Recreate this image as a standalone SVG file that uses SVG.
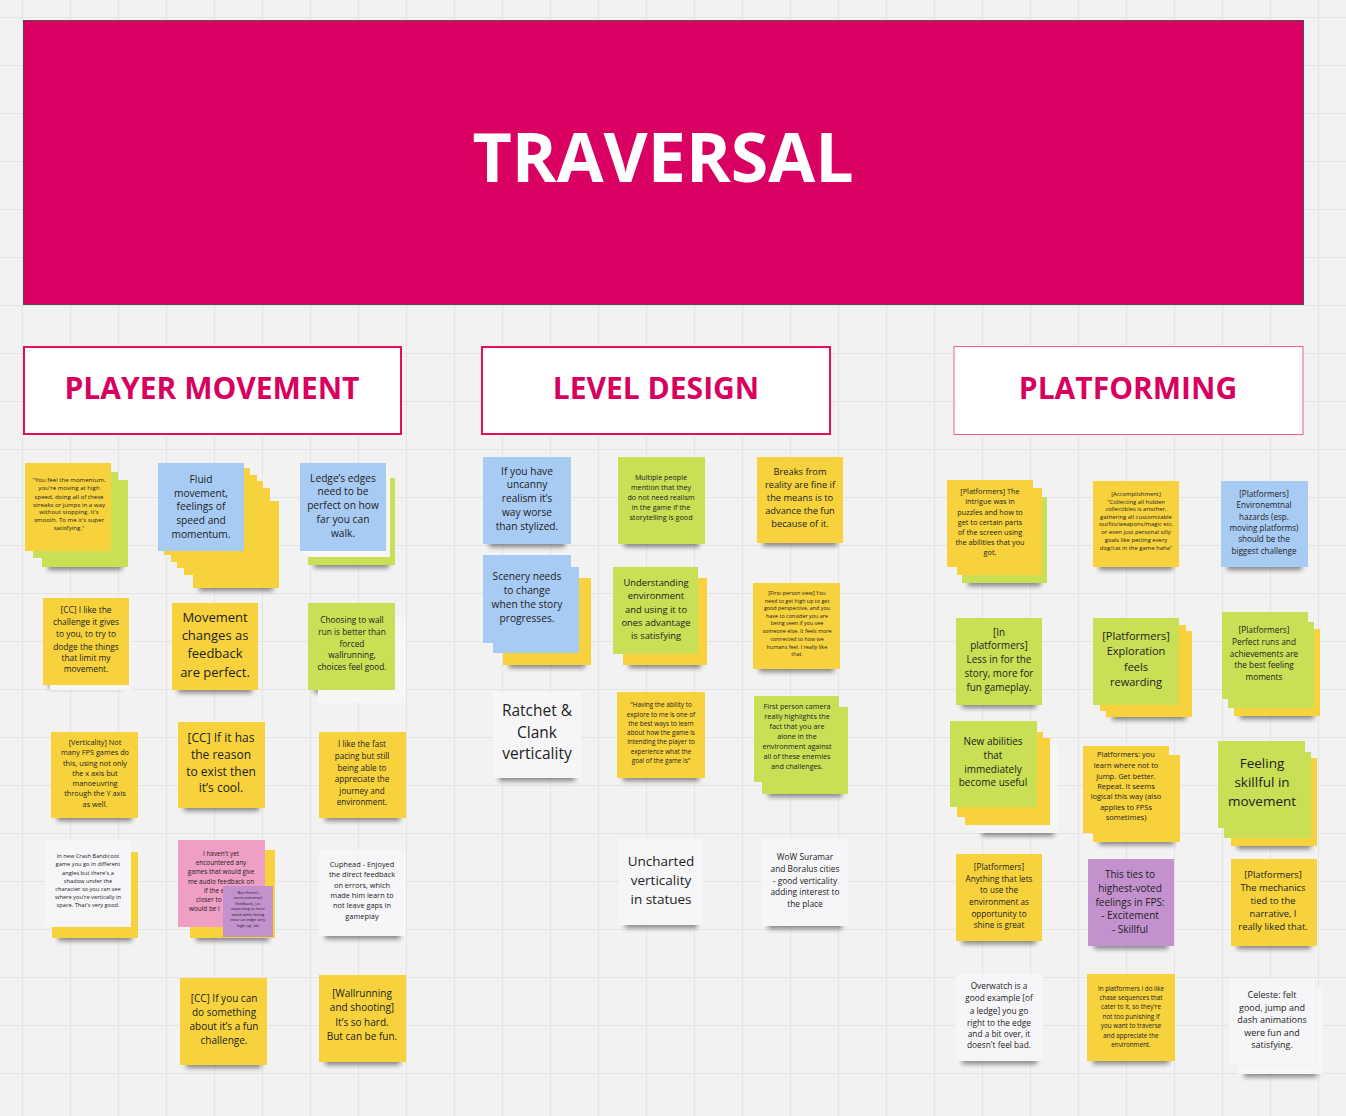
<svg xmlns="http://www.w3.org/2000/svg" width="1346" height="1116" viewBox="0 0 1346 1116">
<defs>
<pattern id="grid" width="48" height="48" patternUnits="userSpaceOnUse" x="22" y="17">
<path d="M0 0.5H48M0.5 0V48" fill="none" stroke="#e4e4e4" stroke-width="1"/>
</pattern>
<filter id="blur" x="-20%" y="-100%" width="140%" height="300%"><feGaussianBlur stdDeviation="2.5"/></filter>
<style>
.ny{fill:#f7d23c}.ng{fill:#c9df55}.nb{fill:#a8cbf3}.nw{fill:#f6f6f8}.np{fill:#ef9fc3}.nv{fill:#c491cf}
.sh{fill:#000;opacity:.45;filter:url(#blur)}
.t{font-family:"Open Sans","Liberation Sans",sans-serif;fill:#222;text-anchor:middle;dominant-baseline:central}
.ts{font-family:"Open Sans","Liberation Sans",sans-serif;fill:#222;text-anchor:start;dominant-baseline:central}
.hd{font-family:"Open Sans","Liberation Sans",sans-serif;font-weight:700;fill:#d8005f;text-anchor:middle;dominant-baseline:central}
</style>
</defs>
<rect width="1346" height="1116" fill="#f2f2f2"/>
<rect width="1346" height="1116" fill="url(#grid)"/>

<g id="banner">
<rect x="23.5" y="20.5" width="1280" height="284" fill="#da0062" stroke="#5a4a52" stroke-width="1"/>
<text x="663" y="155" class="hd" style="fill:#fff" font-size="68">TRAVERSAL</text>
</g>
<g id="hdr-player-movement">
<rect x="24" y="347" width="377" height="87" fill="#fff" stroke="#e0105f" stroke-width="2"/>
<text x="212" y="387" class="hd" font-size="30">PLAYER MOVEMENT</text>
</g>
<g id="hdr-level-design">
<rect x="482" y="347" width="348" height="87" fill="#fff" stroke="#e0105f" stroke-width="2"/>
<text x="656" y="387" class="hd" font-size="30">LEVEL DESIGN</text>
</g>
<g id="hdr-platforming">
<rect x="954" y="346.5" width="349" height="88" fill="#fff" stroke="#ea5c9c" stroke-width="1"/>
<text x="1128" y="387" class="hd" font-size="30">PLATFORMING</text>
</g>

<g id="connectors"/>

<!-- PLAYER MOVEMENT -->
<g id="pm-momentum">
<rect class="sh" x="48" y="562" width="74" height="8"/>
<rect class="ng" x="42" y="480" width="86" height="87"/>
<rect class="ng" x="33" y="472" width="85" height="86"/>
<rect class="ny" x="25" y="463" width="86" height="88"/>
<text class="t" font-size="6.1" transform="translate(0,-2)"><tspan x="69" y="481">"You feel the momentum,</tspan><tspan x="69" y="489">you're moving at high</tspan><tspan x="69" y="497.5">speed, doing all of these</tspan><tspan x="69" y="505.5">streaks or jumps in a way</tspan><tspan x="69" y="513">without stopping. It's</tspan><tspan x="69" y="521">smooth. To me it's super</tspan><tspan x="69" y="529">satisfying."</tspan></text>
</g>
<g id="pm-fluid">
<rect class="sh" x="199" y="583" width="74" height="8"/>
<rect class="ny" x="193" y="501" width="86" height="87"/>
<rect class="ny" x="184" y="488" width="86" height="87"/>
<rect class="ny" x="177" y="481" width="86" height="87"/>
<rect class="ny" x="171" y="475" width="86" height="87"/>
<rect class="ny" x="164" y="468" width="86" height="87"/>
<rect class="nb" x="158" y="463" width="86" height="88"/>
<text class="t" font-size="10.2" transform="translate(0,-3.5)"><tspan x="201" y="482">Fluid</tspan><tspan x="201" y="496">movement,</tspan><tspan x="201" y="509">feelings of</tspan><tspan x="201" y="523">speed and</tspan><tspan x="201" y="537">momentum.</tspan></text>
</g>
<g id="pm-ledges">
<rect class="sh" x="314" y="560" width="75" height="8"/>
<rect class="ng" x="308" y="478" width="87" height="87"/>
<rect class="nw" x="303" y="470" width="87" height="87"/>
<rect class="nb" x="300" y="463" width="86" height="88"/>
<text class="t" font-size="10.2" transform="translate(0,-3.5)"><tspan x="343" y="481">Ledge’s edges</tspan><tspan x="343" y="494.5">need to be</tspan><tspan x="343" y="508">perfect on how</tspan><tspan x="343" y="522">far you can</tspan><tspan x="343" y="536">walk.</tspan></text>
</g>
<g id="pm-challenge">
<rect class="sh" x="49" y="680" width="74" height="8"/>
<rect class="nw" x="50" y="606" width="81" height="84"/>
<rect class="ny" x="43" y="598" width="86" height="87"/>
<text class="t" font-size="8.4" transform="translate(0,-3)"><tspan x="86" y="612">[CC] I like the</tspan><tspan x="86" y="624">challenge it gives</tspan><tspan x="86" y="636">to you, to try to</tspan><tspan x="86" y="648.5">dodge the things</tspan><tspan x="86" y="660">that limit my</tspan><tspan x="86" y="671">movement.</tspan></text>
</g>
<g id="pm-feedback">
<rect class="sh" x="178" y="685" width="74" height="8"/>
<rect class="ny" x="172" y="603" width="86" height="87"/>
<text class="t" font-size="13" transform="translate(0,-4.5)"><tspan x="215" y="621">Movement</tspan><tspan x="215" y="639">changes as</tspan><tspan x="215" y="657">feedback</tspan><tspan x="215" y="676">are perfect.</tspan></text>
</g>
<g id="pm-wallrun-choice">
<rect class="sh" x="314" y="685" width="75" height="8"/>
<rect class="nw" x="318" y="617" width="88" height="86"/>
<rect class="ng" x="308" y="603" width="87" height="87"/>
<text class="t" font-size="8.3" transform="translate(0,-3)"><tspan x="352" y="622">Choosing to wall</tspan><tspan x="352" y="634">run is better than</tspan><tspan x="352" y="646">forced</tspan><tspan x="352" y="657">wallrunning,</tspan><tspan x="352" y="668.5">choices feel good.</tspan></text>
</g>
<g id="pm-verticality">
<rect class="sh" x="57" y="813" width="75" height="8"/>
<rect class="ny" x="51" y="732" width="87" height="86"/>
<text class="t" font-size="7.3" transform="translate(0,-2.5)"><tspan x="95" y="744">[Verticality] Not</tspan><tspan x="95" y="754.5">many FPS games do</tspan><tspan x="95" y="765">this, using not only</tspan><tspan x="95" y="775">the x axis but</tspan><tspan x="95" y="785">manoeuvring</tspan><tspan x="95" y="795.5">through the Y axis</tspan><tspan x="95" y="806">as well.</tspan></text>
</g>
<g id="pm-reason">
<rect class="sh" x="184" y="803" width="75" height="8"/>
<rect class="ny" x="178" y="722" width="87" height="86"/>
<text class="t" font-size="12" transform="translate(0,-4)"><tspan x="221" y="741">[CC] If it has</tspan><tspan x="221" y="758">the reason</tspan><tspan x="221" y="775">to exist then</tspan><tspan x="221" y="791">it’s cool.</tspan></text>
</g>
<g id="pm-fast-pacing">
<rect class="sh" x="325" y="813" width="75" height="8"/>
<rect class="ny" x="319" y="732" width="87" height="86"/>
<text class="t" font-size="8.1" transform="translate(0,-3)"><tspan x="362" y="746">I like the fast</tspan><tspan x="362" y="758">pacing but still</tspan><tspan x="362" y="769.5">being able to</tspan><tspan x="362" y="781">appreciate the</tspan><tspan x="362" y="792.5">journey and</tspan><tspan x="362" y="804">environment.</tspan></text>
</g>
<g id="pm-crash">
<rect class="sh" x="58" y="933" width="74" height="8"/>
<rect class="ny" x="52" y="852" width="86" height="86"/>
<rect class="nw" x="45" y="840" width="86" height="87"/>
<text class="t" font-size="5.7" transform="translate(0,-2)"><tspan x="88" y="858">In new Crash Bandicoot</tspan><tspan x="88" y="866">game you go in different</tspan><tspan x="88" y="874.5">angles but there's a</tspan><tspan x="88" y="882.5">shadow under the</tspan><tspan x="88" y="890.5">character so you can see</tspan><tspan x="88" y="898.5">where you're vertically in</tspan><tspan x="88" y="906.5">space. That's very good.</tspan></text>
</g>
<g id="pm-audio">
<rect class="sh" x="196" y="933" width="73" height="8"/>
<rect class="ny" x="190" y="850" width="85" height="88"/>
<rect class="np" x="178" y="840" width="87" height="87"/>
<text class="t" font-size="6.4" transform="translate(0,-2)"><tspan x="221" y="855">I haven't yet</tspan><tspan x="221" y="864">encountered any</tspan><tspan x="221" y="873">games that would give</tspan><tspan x="221" y="882.5">me audio feedback on</tspan></text>
<text class="ts" font-size="6.4" transform="translate(0,-2)"><tspan x="204" y="892">if the edge</tspan><tspan x="196" y="901">closer to</tspan><tspan x="189" y="910">would be i</tspan></text>
</g>
<g id="pm-audio-wind">
<rect class="nv" x="223" y="886" width="50" height="51"/>
<text class="t" font-size="4.2" transform="translate(0,-1.5)"><tspan x="248" y="893">But there's</tspan><tspan x="248" y="898.5">environmental</tspan><tspan x="248" y="904">feedback, i.e.</tspan><tspan x="248" y="909.5">expecting to hear</tspan><tspan x="248" y="915">wind while being</tspan><tspan x="248" y="920.5">near an edge very</tspan><tspan x="248" y="926">high up, etc</tspan></text>
</g>
<g id="pm-cuphead">
<rect class="sh" x="325" y="931" width="75" height="8"/>
<rect class="nw" x="319" y="850" width="87" height="86"/>
<text class="t" font-size="7.4" transform="translate(0,-2.5)"><tspan x="362" y="866">Cuphead - Enjoyed</tspan><tspan x="362" y="876.5">the direct feedback</tspan><tspan x="362" y="887">on errors, which</tspan><tspan x="362" y="897">made him learn to</tspan><tspan x="362" y="907">not leave gaps in</tspan><tspan x="362" y="918">gameplay</tspan></text>
</g>
<g id="pm-fun-challenge">
<rect class="sh" x="186" y="1060" width="75" height="8"/>
<rect class="ny" x="180" y="978" width="87" height="87"/>
<text class="t" font-size="10" transform="translate(0,-3.5)"><tspan x="224" y="1001">[CC] If you can</tspan><tspan x="224" y="1015">do something</tspan><tspan x="224" y="1029">about it’s a fun</tspan><tspan x="224" y="1043">challenge.</tspan></text>
</g>
<g id="pm-wallrun-shoot">
<rect class="sh" x="325" y="1057" width="75" height="8"/>
<rect class="ny" x="319" y="975" width="87" height="87"/>
<text class="t" font-size="10" transform="translate(0,-3.5)"><tspan x="362" y="996">[Wallrunning</tspan><tspan x="362" y="1010.5">and shooting]</tspan><tspan x="362" y="1025">It’s so hard.</tspan><tspan x="362" y="1039">But can be fun.</tspan></text>
</g>

<!-- LEVEL DESIGN -->
<g id="ld-uncanny">
<rect class="sh" x="489" y="539" width="76" height="8"/>
<rect class="nb" x="483" y="457" width="88" height="87"/>
<text class="t" font-size="10.2" transform="translate(0,-3.5)"><tspan x="527" y="474">If you have</tspan><tspan x="527" y="487.5">uncanny</tspan><tspan x="527" y="501">realism it’s</tspan><tspan x="527" y="515">way worse</tspan><tspan x="527" y="529">than stylized.</tspan></text>
</g>
<g id="ld-realism">
<rect class="sh" x="624" y="539" width="75" height="8"/>
<rect class="ng" x="618" y="457" width="87" height="87"/>
<text class="t" font-size="7.2" transform="translate(0,-2.5)"><tspan x="661" y="479">Multiple people</tspan><tspan x="661" y="489">mention that they</tspan><tspan x="661" y="499">do not need realism</tspan><tspan x="661" y="509">in the game if the</tspan><tspan x="661" y="519">storytelling is good</tspan></text>
</g>
<g id="ld-breaks">
<rect class="sh" x="763" y="538" width="74" height="8"/>
<rect class="ny" x="757" y="457" width="86" height="86"/>
<text class="t" font-size="9.3" transform="translate(0,-3.2)"><tspan x="800" y="474">Breaks from</tspan><tspan x="800" y="487">reality are fine if</tspan><tspan x="800" y="500">the means is to</tspan><tspan x="800" y="513">advance the fun</tspan><tspan x="800" y="526">because of it.</tspan></text>
</g>
<g id="ld-scenery">
<rect class="sh" x="509" y="660" width="76" height="8"/>
<rect class="ny" x="503" y="578" width="88" height="87"/>
<rect class="nb" x="493" y="567" width="86" height="86"/>
<rect class="nb" x="483" y="555" width="88" height="88"/>
<text class="t" font-size="10.2" transform="translate(0,-3.5)"><tspan x="527" y="579">Scenery needs</tspan><tspan x="527" y="593">to change</tspan><tspan x="527" y="607">when the story</tspan><tspan x="527" y="621">progresses.</tspan></text>
</g>
<g id="ld-environment">
<rect class="sh" x="629" y="660" width="72" height="8"/>
<rect class="ny" x="623" y="578" width="84" height="87"/>
<rect class="ng" x="613" y="567" width="85" height="87"/>
<text class="t" font-size="9.4" transform="translate(0,-3.3)"><tspan x="656" y="585">Understanding</tspan><tspan x="656" y="598">environment</tspan><tspan x="656" y="612">and using it to</tspan><tspan x="656" y="625">ones advantage</tspan><tspan x="656" y="638">is satisfying</tspan></text>
</g>
<g id="ld-first-person-view">
<rect class="sh" x="759" y="664" width="75" height="8"/>
<rect class="ny" x="753" y="583" width="87" height="86"/>
<text class="t" font-size="5.4" transform="translate(0,-2)"><tspan x="797" y="595">[First-person view] You</tspan><tspan x="797" y="602.5">need to get high up to get</tspan><tspan x="797" y="610">good perspective, and you</tspan><tspan x="797" y="617.5">have to consider you are</tspan><tspan x="797" y="625">being seen if you see</tspan><tspan x="797" y="633">someone else. It feels more</tspan><tspan x="797" y="641">connected to how we</tspan><tspan x="797" y="648.5">humans feel. I really like</tspan><tspan x="797" y="656">that.</tspan></text>
</g>
<g id="ld-ratchet">
<rect class="sh" x="499" y="773" width="76" height="8"/>
<rect class="nw" x="493" y="692" width="88" height="86"/>
<text class="t" font-size="15.5" transform="translate(0,-5)"><tspan x="537" y="715">Ratchet &amp;</tspan><tspan x="537" y="737">Clank</tspan><tspan x="537" y="758">verticality</tspan></text>
</g>
<g id="ld-explore">
<rect class="sh" x="623" y="773" width="76" height="8"/>
<rect class="ny" x="617" y="692" width="88" height="86"/>
<text class="t" font-size="6.4" transform="translate(0,-2)"><tspan x="661" y="706">"Having the ability to</tspan><tspan x="661" y="715.5">explore to me is one of</tspan><tspan x="661" y="725">the best ways to learn</tspan><tspan x="661" y="734">about how the game is</tspan><tspan x="661" y="743">intending the player to</tspan><tspan x="661" y="752.5">experience what the</tspan><tspan x="661" y="761.5">goal of the game is"</tspan></text>
</g>
<g id="ld-first-person-camera">
<rect class="sh" x="768" y="789" width="74" height="8"/>
<rect class="ng" x="762" y="707" width="86" height="87"/>
<rect class="ng" x="754" y="696" width="85" height="86"/>
<text class="t" font-size="7.2" transform="translate(0,-2.5)"><tspan x="797" y="708">First person camera</tspan><tspan x="797" y="718">really highlights the</tspan><tspan x="797" y="728.5">fact that you are</tspan><tspan x="797" y="738.5">alone in the</tspan><tspan x="797" y="748.5">environment against</tspan><tspan x="797" y="758.5">all of these enemies</tspan><tspan x="797" y="768.5">and challenges.</tspan></text>
</g>
<g id="ld-uncharted">
<rect class="sh" x="625" y="920" width="72" height="8"/>
<rect class="nw" x="619" y="839" width="84" height="86"/>
<text class="t" font-size="13.5" transform="translate(0,-4.5)"><tspan x="661" y="865">Uncharted</tspan><tspan x="661" y="884">verticality</tspan><tspan x="661" y="903">in statues</tspan></text>
</g>
<g id="ld-wow">
<rect class="sh" x="768" y="921" width="74" height="8"/>
<rect class="nw" x="762" y="839" width="86" height="87"/>
<text class="t" font-size="8.4" transform="translate(0,-3)"><tspan x="805" y="859">WoW Suramar</tspan><tspan x="805" y="871">and Boralus cities</tspan><tspan x="805" y="882.5">- good verticality</tspan><tspan x="805" y="894">adding interest to</tspan><tspan x="805" y="906">the place</tspan></text>
</g>

<!-- PLATFORMING -->
<g id="pf-intrigue">
<rect class="sh" x="968" y="578" width="73" height="8"/>
<rect class="ng" x="962" y="497" width="85" height="86"/>
<rect class="ny" x="957" y="488" width="85" height="87"/>
<rect class="ny" x="947" y="480" width="86" height="87"/>
<text class="t" font-size="7.3" transform="translate(0,-2.5)"><tspan x="990" y="493">[Platformers] The</tspan><tspan x="990" y="503">intrigue was in</tspan><tspan x="990" y="514">puzzles and how to</tspan><tspan x="990" y="524">get to certain parts</tspan><tspan x="990" y="534">of the screen using</tspan><tspan x="990" y="544">the abilities that you</tspan><tspan x="990" y="554">got.</tspan></text>
</g>
<g id="pf-accomplishment">
<rect class="sh" x="1099" y="562" width="74" height="8"/>
<rect class="ny" x="1093" y="481" width="86" height="86"/>
<text class="t" font-size="5.9" transform="translate(0,-2)"><tspan x="1136" y="496">[Accomplishment]</tspan><tspan x="1136" y="503.5">"Collecting all hidden</tspan><tspan x="1136" y="511">collectibles is another,</tspan><tspan x="1136" y="518.5">gathering all customizable</tspan><tspan x="1136" y="526">outfits/weapons/magic etc,</tspan><tspan x="1136" y="534">or even just personal silly</tspan><tspan x="1136" y="542">goals like petting every</tspan><tspan x="1136" y="550">dog/cat in the game haha"</tspan></text>
</g>
<g id="pf-hazards">
<rect class="sh" x="1227" y="562" width="75" height="8"/>
<rect class="nb" x="1221" y="481" width="87" height="86"/>
<text class="t" font-size="8.1" transform="translate(0,-3)"><tspan x="1264" y="496">[Platformers]</tspan><tspan x="1264" y="507">Environemtnal</tspan><tspan x="1264" y="518.5">hazards (esp.</tspan><tspan x="1264" y="530">moving platforms)</tspan><tspan x="1264" y="541">should be the</tspan><tspan x="1264" y="552.5">biggest challenge</tspan></text>
</g>
<g id="pf-fun-gameplay">
<rect class="sh" x="962" y="700" width="74" height="8"/>
<rect class="ng" x="956" y="618" width="86" height="87"/>
<text class="t" font-size="9.9" transform="translate(0,-3.5)"><tspan x="999" y="635">[In</tspan><tspan x="999" y="648">platformers]</tspan><tspan x="999" y="662">Less in for the</tspan><tspan x="999" y="676">story, more for</tspan><tspan x="999" y="690">fun gameplay.</tspan></text>
</g>
<g id="pf-exploration">
<rect class="sh" x="1112" y="712" width="74" height="8"/>
<rect class="ny" x="1106" y="631" width="86" height="86"/>
<rect class="ny" x="1100" y="625" width="86" height="86"/>
<rect class="ng" x="1093" y="618" width="86" height="87"/>
<text class="t" font-size="11" transform="translate(0,-4)"><tspan x="1136" y="639">[Platformers]</tspan><tspan x="1136" y="654">Exploration</tspan><tspan x="1136" y="669.5">feels</tspan><tspan x="1136" y="685">rewarding</tspan></text>
</g>
<g id="pf-perfect-runs">
<rect class="sh" x="1240" y="711" width="74" height="8"/>
<rect class="ny" x="1234" y="629" width="86" height="87"/>
<rect class="ng" x="1228" y="622" width="86" height="86"/>
<rect class="ng" x="1222" y="612" width="86" height="87"/>
<text class="t" font-size="8.3" transform="translate(0,-3)"><tspan x="1264" y="632">[Platformers]</tspan><tspan x="1264" y="644">Perfect runs and</tspan><tspan x="1264" y="655.5">achievements are</tspan><tspan x="1264" y="667">the best feeling</tspan><tspan x="1264" y="678.5">moments</tspan></text>
</g>
<g id="pf-new-abilities">
<rect class="sh" x="982" y="828" width="72" height="8"/>
<rect class="nw" x="976" y="745" width="82" height="88"/>
<rect class="ny" x="965" y="738" width="85" height="87"/>
<rect class="ny" x="957" y="732" width="86" height="85"/>
<rect class="ng" x="950" y="721" width="87" height="86"/>
<text class="t" font-size="10" transform="translate(0,-3.5)"><tspan x="993" y="744">New abilities</tspan><tspan x="993" y="758">that</tspan><tspan x="993" y="772">immediately</tspan><tspan x="993" y="785">become useful</tspan></text>
</g>
<g id="pf-learn">
<rect class="sh" x="1099" y="837" width="75" height="8"/>
<rect class="ny" x="1093" y="755" width="87" height="87"/>
<rect class="ny" x="1083" y="746" width="86" height="87"/>
<text class="t" font-size="7.5" transform="translate(0,-2.6)"><tspan x="1126" y="757">Platformers: you</tspan><tspan x="1126" y="768">learn where not to</tspan><tspan x="1126" y="778.5">jump. Get better.</tspan><tspan x="1126" y="789">Repeat. It seems</tspan><tspan x="1126" y="799">logical this way (also</tspan><tspan x="1126" y="809.5">applies to FPSs</tspan><tspan x="1126" y="820">sometimes)</tspan></text>
</g>
<g id="pf-skillful">
<rect class="sh" x="1237" y="841" width="74" height="8"/>
<rect class="ny" x="1231" y="758" width="86" height="88"/>
<rect class="ng" x="1224" y="752" width="87" height="86"/>
<rect class="ng" x="1218" y="741" width="87" height="87"/>
<text class="t" font-size="13.5" transform="translate(0,-4.5)"><tspan x="1262" y="767">Feeling</tspan><tspan x="1262" y="786">skillful in</tspan><tspan x="1262" y="805">movement</tspan></text>
</g>
<g id="pf-environment-shine">
<rect class="sh" x="962" y="936" width="74" height="8"/>
<rect class="ny" x="956" y="854" width="86" height="87"/>
<text class="t" font-size="8.2" transform="translate(0,-3)"><tspan x="999" y="869">[Platformers]</tspan><tspan x="999" y="881">Anything that lets</tspan><tspan x="999" y="892">to use the</tspan><tspan x="999" y="904">environment as</tspan><tspan x="999" y="916">opportunity to</tspan><tspan x="999" y="927">shine is great</tspan></text>
</g>
<g id="pf-ties">
<rect class="sh" x="1094" y="941" width="74" height="8"/>
<rect class="nv" x="1088" y="859" width="86" height="87"/>
<text class="t" font-size="10" transform="translate(0,-3.5)"><tspan x="1130" y="877">This ties to</tspan><tspan x="1130" y="891">highest-voted</tspan><tspan x="1130" y="905">feelings in FPS:</tspan><tspan x="1130" y="918.5">- Excitement</tspan><tspan x="1130" y="932.5">- Skillful</tspan></text>
</g>
<g id="pf-mechanics">
<rect class="sh" x="1237" y="941" width="74" height="8"/>
<rect class="ny" x="1231" y="859" width="86" height="87"/>
<text class="t" font-size="9.4" transform="translate(0,-3.3)"><tspan x="1273" y="877">[Platformers]</tspan><tspan x="1273" y="890">The mechanics</tspan><tspan x="1273" y="903">tied to the</tspan><tspan x="1273" y="916">narrative, I</tspan><tspan x="1273" y="929">really liked that.</tspan></text>
</g>
<g id="pf-overwatch">
<rect class="sh" x="962" y="1056" width="75" height="8"/>
<rect class="nw" x="956" y="974" width="87" height="87"/>
<text class="t" font-size="8.3" transform="translate(0,-3)"><tspan x="999" y="988">Overwatch is a</tspan><tspan x="999" y="1000">good example [of</tspan><tspan x="999" y="1012.5">a ledge] you go</tspan><tspan x="999" y="1024.5">right to the edge</tspan><tspan x="999" y="1036">and a bit over, it</tspan><tspan x="999" y="1047">doesn't feel bad.</tspan></text>
</g>
<g id="pf-chase">
<rect class="sh" x="1093" y="1056" width="76" height="8"/>
<rect class="ny" x="1087" y="974" width="88" height="87"/>
<text class="t" font-size="6.3" transform="translate(0,-2)"><tspan x="1131" y="990">In platformers I do like</tspan><tspan x="1131" y="999">chase sequences that</tspan><tspan x="1131" y="1008">cater to it, so they're</tspan><tspan x="1131" y="1017.5">not too punishing if</tspan><tspan x="1131" y="1027">you want to traverse</tspan><tspan x="1131" y="1036.5">and appreciate the</tspan><tspan x="1131" y="1045.5">environment.</tspan></text>
</g>
<g id="pf-celeste">
<rect class="sh" x="1244" y="1069" width="73" height="8"/>
<rect class="nw" x="1238" y="987" width="85" height="87"/>
<rect class="nw" x="1228" y="978" width="87" height="87" stroke="#e8e8ea" stroke-width="0.5"/>
<text class="t" font-size="9" transform="translate(0,-3)"><tspan x="1272" y="997">Celeste: felt</tspan><tspan x="1272" y="1009.5">good, jump and</tspan><tspan x="1272" y="1022">dash animations</tspan><tspan x="1272" y="1035">were fun and</tspan><tspan x="1272" y="1047">satisfying.</tspan></text>
</g>
</svg>
